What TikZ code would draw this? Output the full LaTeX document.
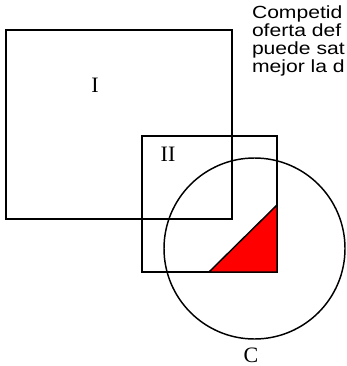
\documentclass[tikz,border=0pt]{standalone}
\usepackage{fontspec}
\setmainfont{Liberation Serif}
\setsansfont{Liberation Sans}[FakeStretch=1.2]
\usepackage{xcolor}
\usepackage{tikz}
\usetikzlibrary{positioning}
\definecolor{ink}{HTML}{000000}
\definecolor{hot}{HTML}{FF0000}
\tikzset{
  edge/.style   = {draw=ink, line width=1.1pt},
  wedge/.style  = {draw=ink, fill=hot, line width=1.1pt, line join=miter},
  roman/.style  = {font=\fontsize{16.5}{18}\selectfont\rmfamily\color{ink}, inner sep=0pt, outer sep=0pt},
  note/.style   = {font=\fontsize{13.2}{15}\selectfont\sffamily\color{ink}, anchor=base west, inner sep=0pt, outer sep=0pt},
}
\begin{document}
\begin{tikzpicture}[x=0.75pt,y=-0.75pt]
\clip (0,0) rectangle (346,366);

% ---------- the two regions ---------------------------------------------
\draw[edge] (6,30)   rectangle (232,219);
\draw[edge] (142,136) rectangle (277,272);

% ---------- the circle and its corner -----------------------------------
\draw[edge] (254.5,248.5) circle (90.5);
\fill[wedge] (209,272) -- (277,272) -- (277,205) -- cycle;

% labels
\node[roman, anchor=base] (regI)  at (95,93)   {I};
\node[roman, anchor=base] (regII) at (168,162) {II};
\node[roman, anchor=base] (circC) at (251,362) {C};

% the note, cut by the edge of the page
\node[note] (noteA) at (252,18.5) {Competid};
\node[note] (noteB) at (252,36.5) {oferta def};
\node[note] (noteC) at (252,54.5) {puede sat};
\node[note] (noteD) at (252,72.5) {mejor la d};

\end{tikzpicture}
\end{document}
